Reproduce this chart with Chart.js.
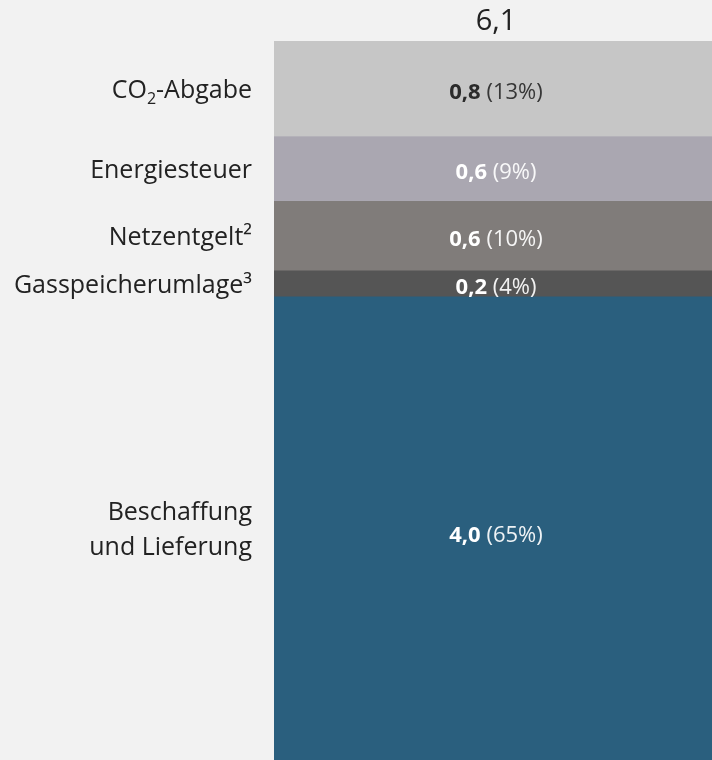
<!DOCTYPE html>
<html>
<head>
<meta charset="utf-8">
<script src="https://cdn.jsdelivr.net/npm/chart.js@4/dist/chart.umd.min.js"></script>
<style>
  html, body { margin: 0; padding: 0; background: #f2f2f2; }
  #wrap { width: 712px; height: 760px; position: relative; }
</style>
</head>
<body>
<div id="wrap"><canvas id="c" width="712" height="760"></canvas></div>
<script>
// ---- data (bottom to top) ----
const categories = ["Gaspreis"];
const segmentNames = [["Beschaffung", "und Lieferung"], ["Gasspeicherumlage³"], ["Netzentgelt²"], ["Energiesteuer"], ["CO₂-Abgabe"]];
const segmentValues = [3.93, 0.22, 0.59, 0.55, 0.81];
const valueLabels = ["4,0", "0,2", "0,6", "0,6", "0,8"];
const shareLabels = ["(65%)", "(4%)", "(10%)", "(9%)", "(13%)"];
const totalLabel = "6,1";
const segmentColors = ["#2a5f7e", "#555555", "#807c7a", "#aaa7b1", "#c6c6c6"];
const valueTextColors = ["#ffffff", "#ffffff", "#ffffff", "#ffffff", "#2a2a2a"];

const total = segmentValues.reduce((a, b) => a + b, 0);
const FONT = "'Open Sans', 'Noto Sans', sans-serif";
const LSIZE = 25;

const labelPlugin = {
  id: "labels",
  afterDatasetsDraw(chart) {
    const ctx = chart.ctx;
    const area = chart.chartArea;
    ctx.save();
    chart.data.datasets.forEach((ds, i) => {
      const bar = chart.getDatasetMeta(i).data[0];
      const cy = (bar.y + bar.base) / 2;
      const cx = bar.x;
      // left label
      ctx.fillStyle = "#222222";
      ctx.font = LSIZE + "px " + FONT;
      ctx.textAlign = "right";
      ctx.textBaseline = "alphabetic";
      const lines = segmentNames[i];
      const lh = 35;
      const firstBase = cy + 9 - (lines.length - 1) * lh / 2;
      const lx = area.left - 22;
      lines.forEach((ln, k) => {
        const by = firstBase + k * lh;
        if (ln.indexOf("₂") >= 0) {
          const parts = ln.split("₂");
          ctx.font = LSIZE + "px " + FONT;
          const wTail = ctx.measureText(parts[1]).width;
          ctx.fillText(parts[1], lx, by);
          ctx.font = "16px " + FONT;
          const wSub = ctx.measureText("2").width;
          ctx.fillText("2", lx - wTail, by + 6);
          ctx.font = LSIZE + "px " + FONT;
          ctx.fillText(parts[0], lx - wTail - wSub, by);
        } else {
          ctx.fillText(ln, lx, by);
        }
      });
      // value label
      ctx.textAlign = "left";
      ctx.font = "bold 22px " + FONT;
      const v = valueLabels[i] + " ";
      const wv = ctx.measureText(v).width;
      ctx.font = "22px " + FONT;
      const wp = ctx.measureText(shareLabels[i]).width;
      const start = cx + 3 - (wv + wp) / 2;
      const vb = cy + 10 + (lines.length > 1 ? 4 : 0);
      ctx.fillStyle = valueTextColors[i];
      ctx.font = "bold 22px " + FONT;
      ctx.fillText(v, start, vb);
      ctx.font = "22px " + FONT;
      ctx.globalAlpha = 0.92;
      ctx.fillText(shareLabels[i], start + wv, vb);
      ctx.globalAlpha = 1;
    });
    const topBar = chart.getDatasetMeta(chart.data.datasets.length - 1).data[0];
    ctx.fillStyle = "#222222";
    ctx.font = "29px " + FONT;
    ctx.textAlign = "center";
    ctx.fillText(totalLabel, topBar.x + 3, area.top - 11);
    ctx.restore();
  }
};

new Chart(document.getElementById("c"), {
  type: "bar",
  data: {
    labels: categories,
    datasets: segmentValues.map((v, i) => ({
      label: segmentNames[i].join(" "),
      data: [v],
      backgroundColor: segmentColors[i],
      borderWidth: 0,
      barPercentage: 1,
      categoryPercentage: 1
    }))
  },
  options: {
    responsive: false,
    animation: false,
    devicePixelRatio: 1,
    layout: { padding: { top: 41, left: 274, right: 0, bottom: 0 } },
    plugins: { legend: { display: false }, tooltip: { enabled: false } },
    scales: {
      x: { stacked: true, display: false },
      y: { stacked: true, display: false, min: 0, max: total }
    }
  },
  plugins: [labelPlugin]
});
</script>
</body>
</html>
